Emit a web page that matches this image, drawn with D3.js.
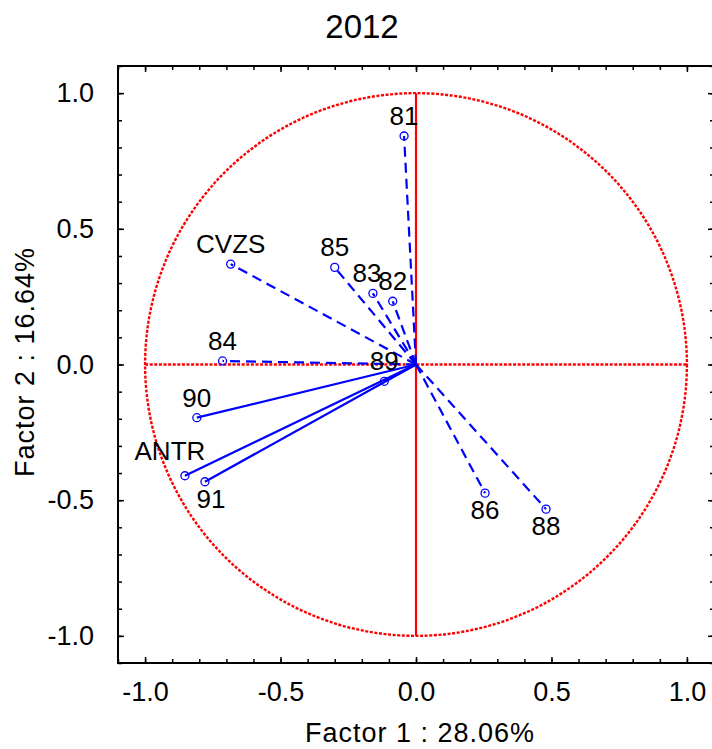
<!DOCTYPE html>
<html>
<head>
<meta charset="utf-8">
<script src="https://cdn.jsdelivr.net/npm/d3@7"></script>
<style>
  body { margin: 0; background: #fff; }
  svg { display: block; font-family: Arial, 'Liberation Sans', sans-serif; }
</style>
</head>
<body>
<svg id="chart" width="712" height="749"></svg>
<script>
// factor loadings
const varNames = ['81', 'CVZS', '85', '83', '82', '84', '89', '90', 'ANTR', '91', '86', '88'];
const factor1 = [-0.044, -0.684, -0.300, -0.159, -0.086, -0.714, -0.117, -0.809, -0.853, -0.779, 0.255, 0.480];
const factor2 = [0.842, 0.370, 0.358, 0.262, 0.233, 0.013, -0.062, -0.196, -0.410, -0.432, -0.474, -0.533];
const majorTicks = [-1.0, -0.5, 0.0, 0.5, 1.0];
const minorTicks = d3.range(-11, 12).map(d => d / 10);

// which vectors are drawn solid, and label placement tweaks
const solidLines = ['89', '90', 'ANTR', '91'];
const labelBelow = ['91', '86', '88'];
const labelNudge = { ANTR: [-15, -5], 83: [-6, 0], 91: [6, 0] };

const margin = { top: 66, right: -2, bottom: 86, left: 118 };
const width = 712 - margin.left - margin.right;
const height = 749 - margin.top - margin.bottom;

const svg = d3.select('#chart');
const g = svg.append('g').attr('transform', `translate(${margin.left}, ${margin.top})`);

const x = d3.scaleLinear().domain([-1.1, 1.1]).range([0, width]);
const y = d3.scaleLinear().domain([-1.1, 1.1]).range([height, 0]);

// plain hyphen instead of unicode minus
const fmt = d => d3.format('.1f')(d).replace('\u2212', '-');

// unit circle + crosshair
const red = '#ff0000';
g.append('ellipse')
  .attr('cx', x(0))
  .attr('cy', y(0))
  .attr('rx', x(1) - x(0))
  .attr('ry', y(0) - y(1))
  .attr('fill', 'none')
  .attr('stroke', red)
  .attr('stroke-width', 2.4)
  .attr('stroke-dasharray', '3,1.6');

g.append('line')
  .attr('x1', x(-1)).attr('x2', x(1))
  .attr('y1', y(0)).attr('y2', y(0))
  .attr('stroke', red)
  .attr('stroke-width', 2.4)
  .attr('stroke-dasharray', '3,1.6');

g.append('line')
  .attr('x1', x(0)).attr('x2', x(0))
  .attr('y1', y(1)).attr('y2', y(-1))
  .attr('stroke', red)
  .attr('stroke-width', 2.2);

const data = varNames.map((name, i) => ({ name, f1: factor1[i], f2: factor2[i] }));

// vectors from origin
g.selectAll('.vec')
  .data(data)
  .enter()
  .append('line')
  .attr('class', 'vec')
  .attr('x1', x(0))
  .attr('y1', y(0))
  .attr('x2', d => x(d.f1))
  .attr('y2', d => y(d.f2))
  .attr('stroke', '#0000ff')
  .attr('stroke-width', 2.2)
  .attr('stroke-dasharray', d => (solidLines.includes(d.name) ? null : '10,6'));

g.selectAll('.dot')
  .data(data)
  .enter()
  .append('circle')
  .attr('class', 'dot')
  .attr('cx', d => x(d.f1))
  .attr('cy', d => y(d.f2))
  .attr('r', 4)
  .attr('fill', 'none')
  .attr('stroke', '#0000ff')
  .attr('stroke-width', 1.3);

g.selectAll('.lbl')
  .data(data)
  .enter()
  .append('text')
  .attr('class', 'lbl')
  .attr('x', d => x(d.f1) + (labelNudge[d.name] ? labelNudge[d.name][0] : 0))
  .attr('y', d => {
    const base = labelBelow.includes(d.name) ? 26 : -11;
    return y(d.f2) + base + (labelNudge[d.name] ? labelNudge[d.name][1] : 0);
  })
  .attr('text-anchor', 'middle')
  .style('font-size', '26px')
  .attr('fill', '#000')
  .text(d => d.name);

// axes: minor + major ticks on all four sides, pointing inward
function addAxis(axisFn, scale, transform, size, values, labels) {
  const a = axisFn(scale).tickValues(values).tickSizeInner(-size).tickSizeOuter(0);
  a.tickFormat(labels ? fmt : '');
  const sel = g.append('g').attr('transform', transform).call(a);
  sel.select('.domain').remove();
  sel.selectAll('.tick line').attr('stroke', '#000').attr('stroke-width', 1.5);
  return sel;
}

const xb = addAxis(d3.axisBottom, x, `translate(0, ${height})`, 6, majorTicks, true);
xb.selectAll('text').style('font-size', '27px').attr('fill', '#000').attr('y', 19);
addAxis(d3.axisBottom, x, `translate(0, ${height})`, 4, minorTicks, false);
addAxis(d3.axisTop, x, 'translate(0, 0)', 6, majorTicks, false);
addAxis(d3.axisTop, x, 'translate(0, 0)', 4, minorTicks, false);

const yl = addAxis(d3.axisLeft, y, 'translate(0, 0)', 6, majorTicks, true);
yl.selectAll('text').style('font-size', '27px').attr('fill', '#000').attr('x', -24);
addAxis(d3.axisLeft, y, 'translate(0, 0)', 4, minorTicks, false);
addAxis(d3.axisRight, y, `translate(${width}, 0)`, 6, majorTicks, false);
addAxis(d3.axisRight, y, `translate(${width}, 0)`, 4, minorTicks, false);

g.append('rect')
  .attr('width', width)
  .attr('height', height)
  .attr('fill', 'none')
  .attr('stroke', '#000')
  .attr('stroke-width', 2);

// titles
svg.append('text')
  .attr('x', 362)
  .attr('y', 38)
  .attr('text-anchor', 'middle')
  .style('font-size', '33px')
  .text('2012');

svg.append('text')
  .attr('x', 420)
  .attr('y', 742)
  .attr('text-anchor', 'middle')
  .style('font-size', '27px')
  .style('letter-spacing', '1px')
  .text('Factor 1 : 28.06%');

svg.append('text')
  .attr('transform', 'translate(34, 362) rotate(-90)')
  .attr('text-anchor', 'middle')
  .style('font-size', '27px')
  .style('letter-spacing', '1px')
  .text('Factor 2 : 16.64%');
</script>
</body>
</html>
